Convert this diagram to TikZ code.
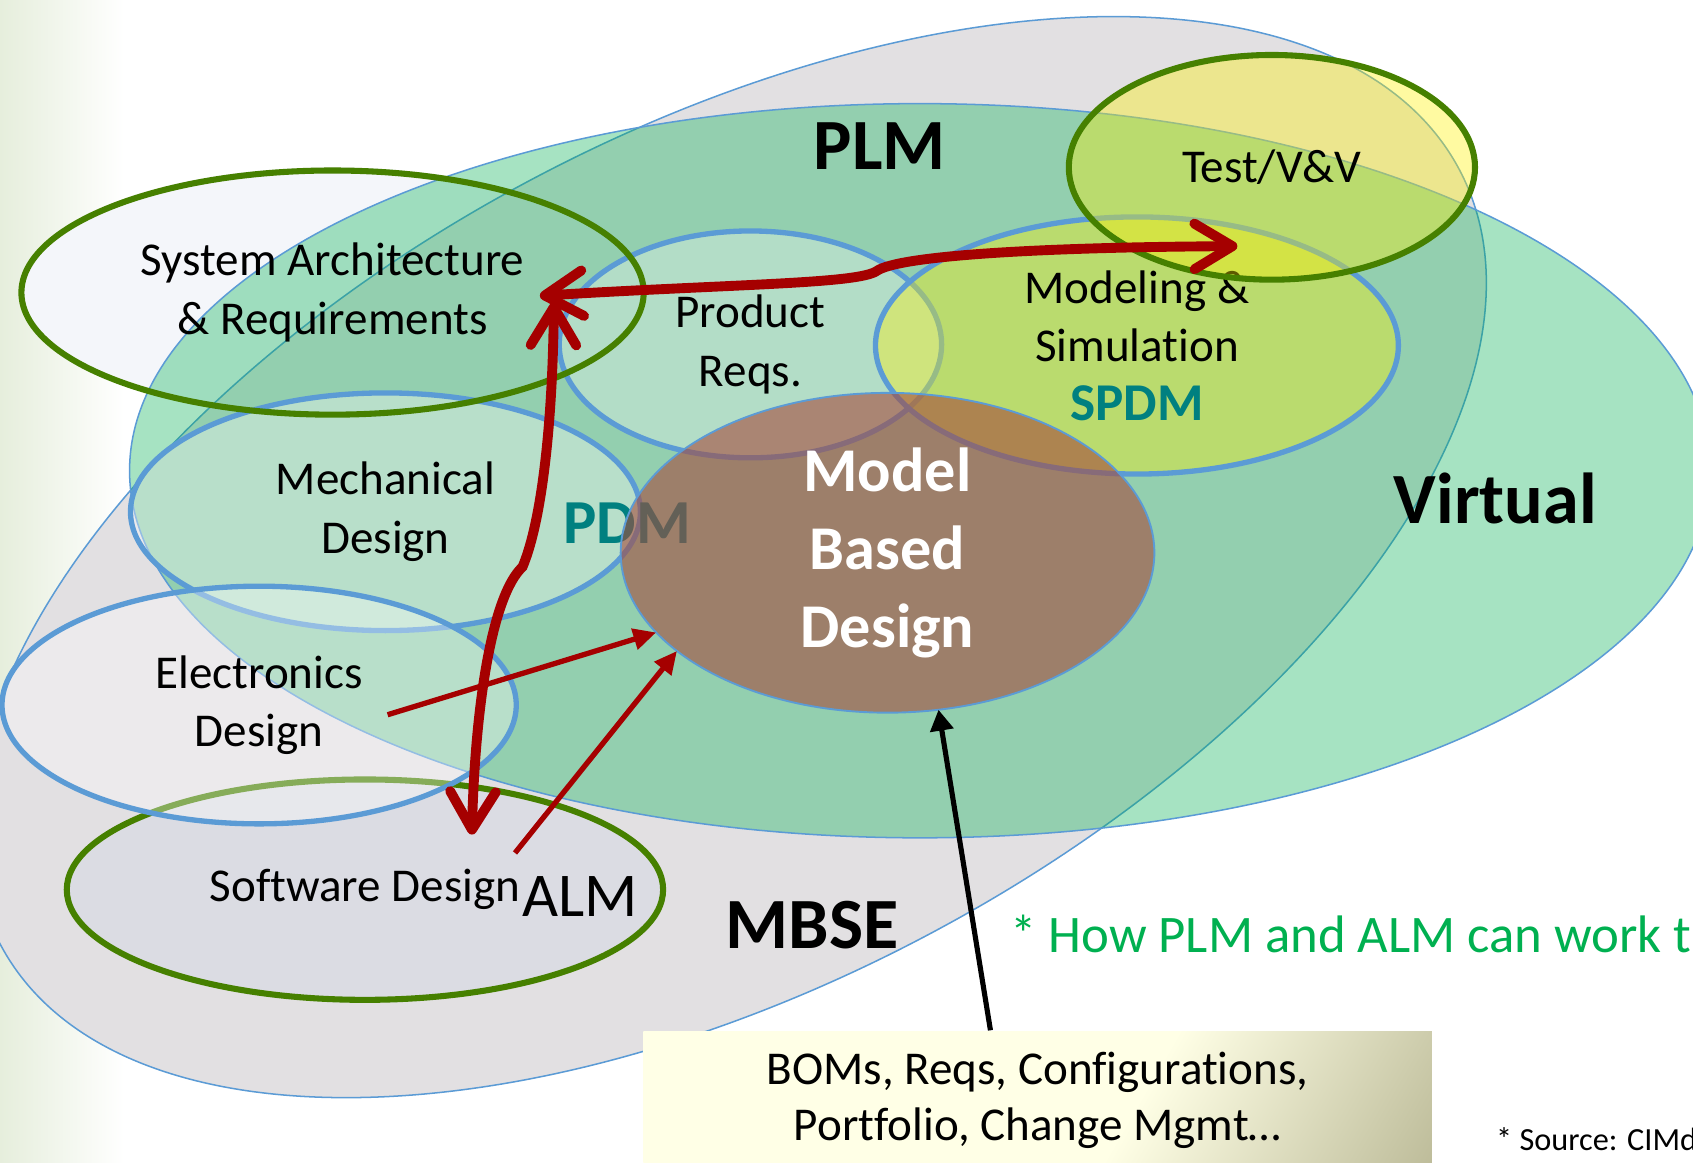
\documentclass[tikz,border=0pt]{standalone}
\usepackage{fontspec}
\setmainfont{Carlito}[Ligatures=NoCommon]
\usetikzlibrary{shapes.geometric,arrows.meta,positioning}

\definecolor{outblue}{RGB}{91,155,213}
\definecolor{outgreen}{RGB}{70,128,0}
\definecolor{plmgreen}{RGB}{0,176,80}
\definecolor{mbsegray}{RGB}{226,224,226}
\definecolor{arrowred}{RGB}{165,0,0}
\definecolor{pdmteal}{RGB}{0,128,128}
\definecolor{mbdbrown}{RGB}{165,75,60}
\definecolor{boxlite}{RGB}{255,255,230}
\definecolor{boxdark}{RGB}{150,148,108}
\definecolor{swfill}{RGB}{214,217,228}
\definecolor{safill}{RGB}{244,246,250}
\definecolor{bgleft}{RGB}{230,238,220}

\pgfdeclarehorizontalshading{boxshade}{100bp}{color(0bp)=(boxlite); color(58bp)=(boxlite); color(100bp)=(boxdark)}
\newcommand{\lblfont}{\fontsize{12.4}{15.4}\selectfont}

\begin{document}
\begin{tikzpicture}[x=0.01cm, y=0.01cm,
    blob/.style={ellipse, inner sep=0pt, outer sep=0pt, align=center, font=\lblfont, text opacity=1},
    blueline/.style={draw=outblue, line width=1.4pt},
    greenline/.style={draw=outgreen, line width=1.6pt},
    bigtext/.style={font=\fontsize{19}{23}\selectfont\bfseries},
    bigred/.style={draw=arrowred, line width=2.6pt, line cap=round,
        {Straight Barb[round,length=10pt,width=12pt]}-{Straight Barb[round,length=10pt,width=12pt]}},
    thinred/.style={draw=arrowred, line width=1.4pt, -{Triangle[length=6pt,width=5.5pt]}},
    blackarr/.style={draw=black, line width=1.35pt, -{Triangle[length=5.5pt,width=6pt]}}]

    \useasboundingbox (0,0) rectangle (1568,1077);
    \shade[left color=bgleft, right color=white] (0,0) rectangle (115,1077);

    % under the system architecture ellipse
    \fill[safill] (308,809) ellipse [x radius=288, y radius=113];

    % MBSE and PLM / Virtual
    \filldraw[fill=mbsegray, draw=outblue, line width=0.4pt, rotate around={28:(676,561)}]
        (676,561) ellipse [x radius=765, y radius=395];
    \filldraw[fill=plmgreen, fill opacity=0.35, draw=outblue, line width=0.4pt]
        (852,641) ellipse [x radius=732, y radius=340];

    \node[bigtext] (plm) at (815,942) {PLM};
    \node[bigtext] (virtual) at (1385,615) {Virtual};
    \node[bigtext] (mbse) at (752,220) {MBSE};

    \node[blob, greenline, fill=swfill, fill opacity=0.5, minimum width=5.52cm, minimum height=2.04cm]
        (sw) at (338,253) {Software Design};
    \node[blob, blueline, fill=white, fill opacity=0.35, minimum width=4.72cm, minimum height=2.2cm]
        (mech) at (357,603) {Mechanical\\Design};
    \node[blob, blueline, fill=white, fill opacity=0.35, minimum width=4.76cm, minimum height=2.2cm]
        (elec) at (240,424) {Electronics\\Design};
    \node[blob, blueline, fill=white, fill opacity=0.3, minimum width=3.54cm, minimum height=2.1cm]
        (prod) at (695,758) {Product\\Reqs.};
    \node[blob, blueline, fill=yellow, fill opacity=0.37, minimum width=4.84cm, minimum height=2.38cm]
        (msim) at (1053,757) {Modeling \&\\Simulation\\{\fontsize{14}{15.4}\selectfont\bfseries\color{pdmteal}SPDM}};
    \node[blob, greenline, fill=yellow, fill opacity=0.37, minimum width=3.76cm, minimum height=2.08cm]
        (test) at (1178,922) {Test/V\&V};
    \node[blob, greenline, minimum width=5.76cm, minimum height=2.26cm]
        (sa) at (308,806) {System Architecture\\\& Requirements};

    \node[font=\fontsize{16.5}{20}\selectfont\bfseries, text=pdmteal] (pdm) at (581,592) {PDM};

    \node[blob, draw=outblue, line width=0.5pt, fill=mbdbrown, fill opacity=0.6, text=white,
        font=\fontsize{16.4}{20.5}\selectfont\bfseries, minimum width=4.94cm, minimum height=2.96cm]
        (mbd) at (822,565) {Model\\Based\\Design};

    \node[font=\fontsize{16.4}{20}\selectfont] (alm) at (537,247) {ALM};

    \node[shade, shading=boxshade, shading angle=-30, minimum width=7.3cm, minimum height=1.28cm,
        align=center, font=\fontsize{12.4}{14.8}\selectfont] (box) at (961,58)
        {BOMs, Reqs, Configurations,\\Portfolio, Change Mgmt…};

    \node[anchor=west, text=plmgreen, font=\fontsize{13.9}{16}\selectfont, inner sep=0pt]
        (howtxt) at (935,212) {* How PLM and ALM can work t};
    \node[anchor=west, font=\fontsize{8.5}{10}\selectfont, inner sep=0pt]
        (source) at (1385,22) {* Source: CIMda};

    % arrows
    \coordinate (sa-h) at (500,803);
    \coordinate (sa-v) at (513,797);
    \coordinate (tv-in) at (1146,849);
    \coordinate (sw-in) at (437,304);
    \coordinate (el-out) at (359,415);
    \coordinate (sw-out) at (477,287);

    \draw[bigred] (sa-h) .. controls (680,814) and (795,814) .. (812,826)
        .. controls (832,840) and (960,848) .. (tv-in);
    \draw[bigred] (sa-v) .. controls (512,700) and (504,600) .. (484,552)
        .. controls (455,525) and (440,420) .. (sw-in);
    \draw[thinred] (el-out) -- (mbd.199);
    \draw[thinred] (sw-out) -- (mbd.205);
    \draw[blackarr] (box.124) -- (mbd.288);

\end{tikzpicture}
\end{document}
